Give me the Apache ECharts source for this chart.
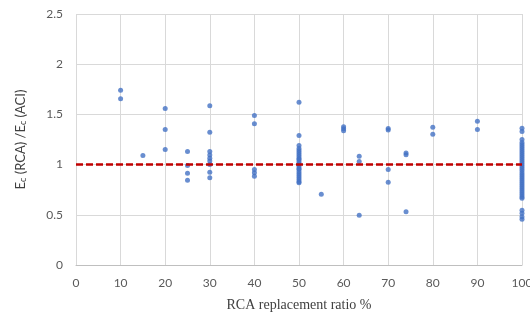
<!DOCTYPE html>
<html>
<head>
<meta charset="utf-8">
<script src="https://cdn.jsdelivr.net/npm/echarts@6/dist/echarts.min.js"></script>
<style>
  html, body { margin: 0; padding: 0; background: #fff; }
  #chart { width: 530px; height: 315px; }
</style>
</head>
<body>
<div id="chart"></div>
<script>
// RCA replacement ratio (%) and the Ec(RCA)/Ec(ACI) values measured at each ratio
const ratios = [10, 15, 20, 25, 30, 40, 50, 55, 60, 63.5, 70, 74, 80, 90, 100]
const ratioValues = [
  [1.74, 1.655],
  [1.09],
  [1.56, 1.35, 1.15],
  [1.13, 0.99, 0.915, 0.845],
  [1.585, 1.323, 1.13, 1.095, 1.064, 1.035, 1.0, 0.925, 0.868],
  [1.49, 1.406, 0.95, 0.92, 0.885],
  [1.62, 1.29, 1.19, 1.16, 1.14, 1.12, 1.10, 1.08, 1.06, 1.05, 1.03, 1.01, 1.00,
    0.98, 0.96, 0.95, 0.93, 0.91, 0.89, 0.87, 0.85, 0.83, 0.82],
  [0.705],
  [1.376, 1.356, 1.336],
  [1.084, 1.03, 0.495],
  [1.36, 1.345, 0.95, 0.825],
  [1.115, 1.098, 0.53],
  [1.373, 1.303],
  [1.432, 1.349],
  [1.363, 1.33, 1.25, 1.22, 1.20, 1.18, 1.16, 1.14, 1.12, 1.10, 1.08, 1.06, 1.04,
    1.02, 1.00, 0.98, 0.96, 0.94, 0.92, 0.90, 0.88, 0.86, 0.84, 0.82, 0.80, 0.78,
    0.76, 0.74, 0.72, 0.70, 0.68, 0.665, 0.545, 0.515, 0.48, 0.455]
]
const refValue = 1

let points = []
ratios.forEach((r, i) => {
  ratioValues[i].forEach(v => points.push([r, v]))
})

let chart = echarts.init(document.getElementById('chart'))
chart.setOption({
  animation: false,
  grid: { left: 76, right: 8, top: 14, bottom: 50, outerBoundsMode: 'none', containLabel: false },
  xAxis: {
    type: 'value',
    min: 0,
    max: 100,
    interval: 10,
    name: 'RCA replacement ratio %',
    nameLocation: 'middle',
    nameGap: 33,
    nameTextStyle: { fontFamily: 'Liberation Serif', fontSize: 14, color: '#404040' },
    axisLine: { show: true, lineStyle: { color: '#bfbfbf' } },
    axisTick: { show: false },
    axisLabel: { fontFamily: 'Lato', fontSize: 12, color: '#595959', margin: 12 },
    splitLine: { show: true, lineStyle: { color: '#d9d9d9' } }
  },
  yAxis: {
    type: 'value',
    min: 0,
    max: 2.5,
    interval: 0.5,
    name: '{n|E}{s|c}{n| (RCA) /E}{s|c}{n| (ACI)}',
    nameLocation: 'middle',
    nameRotate: 90,
    nameGap: 48,
    nameTextStyle: {
      color: '#404040',
      rich: {
        n: { fontFamily: 'Lato', fontSize: 13, color: '#404040' },
        s: { fontFamily: 'Lato', fontSize: 9, color: '#404040', verticalAlign: 'bottom', padding: [6, 0, 0, 0] }
      }
    },
    axisLine: { show: false },
    axisTick: { show: false },
    axisLabel: { fontFamily: 'Lato', fontSize: 12, color: '#595959', margin: 13 },
    splitLine: { show: true, lineStyle: { color: '#d9d9d9' } }
  },
  series: [
    {
      type: 'scatter',
      data: points,
      symbolSize: 5,
      itemStyle: { color: '#4472c4' },
      markLine: {
        silent: true,
        symbol: 'none',
        label: { show: false },
        lineStyle: { color: '#c00000', type: [7, 3], width: 2.5 },
        data: [{ yAxis: refValue }]
      }
    }
  ]
})
</script>
</body>
</html>
